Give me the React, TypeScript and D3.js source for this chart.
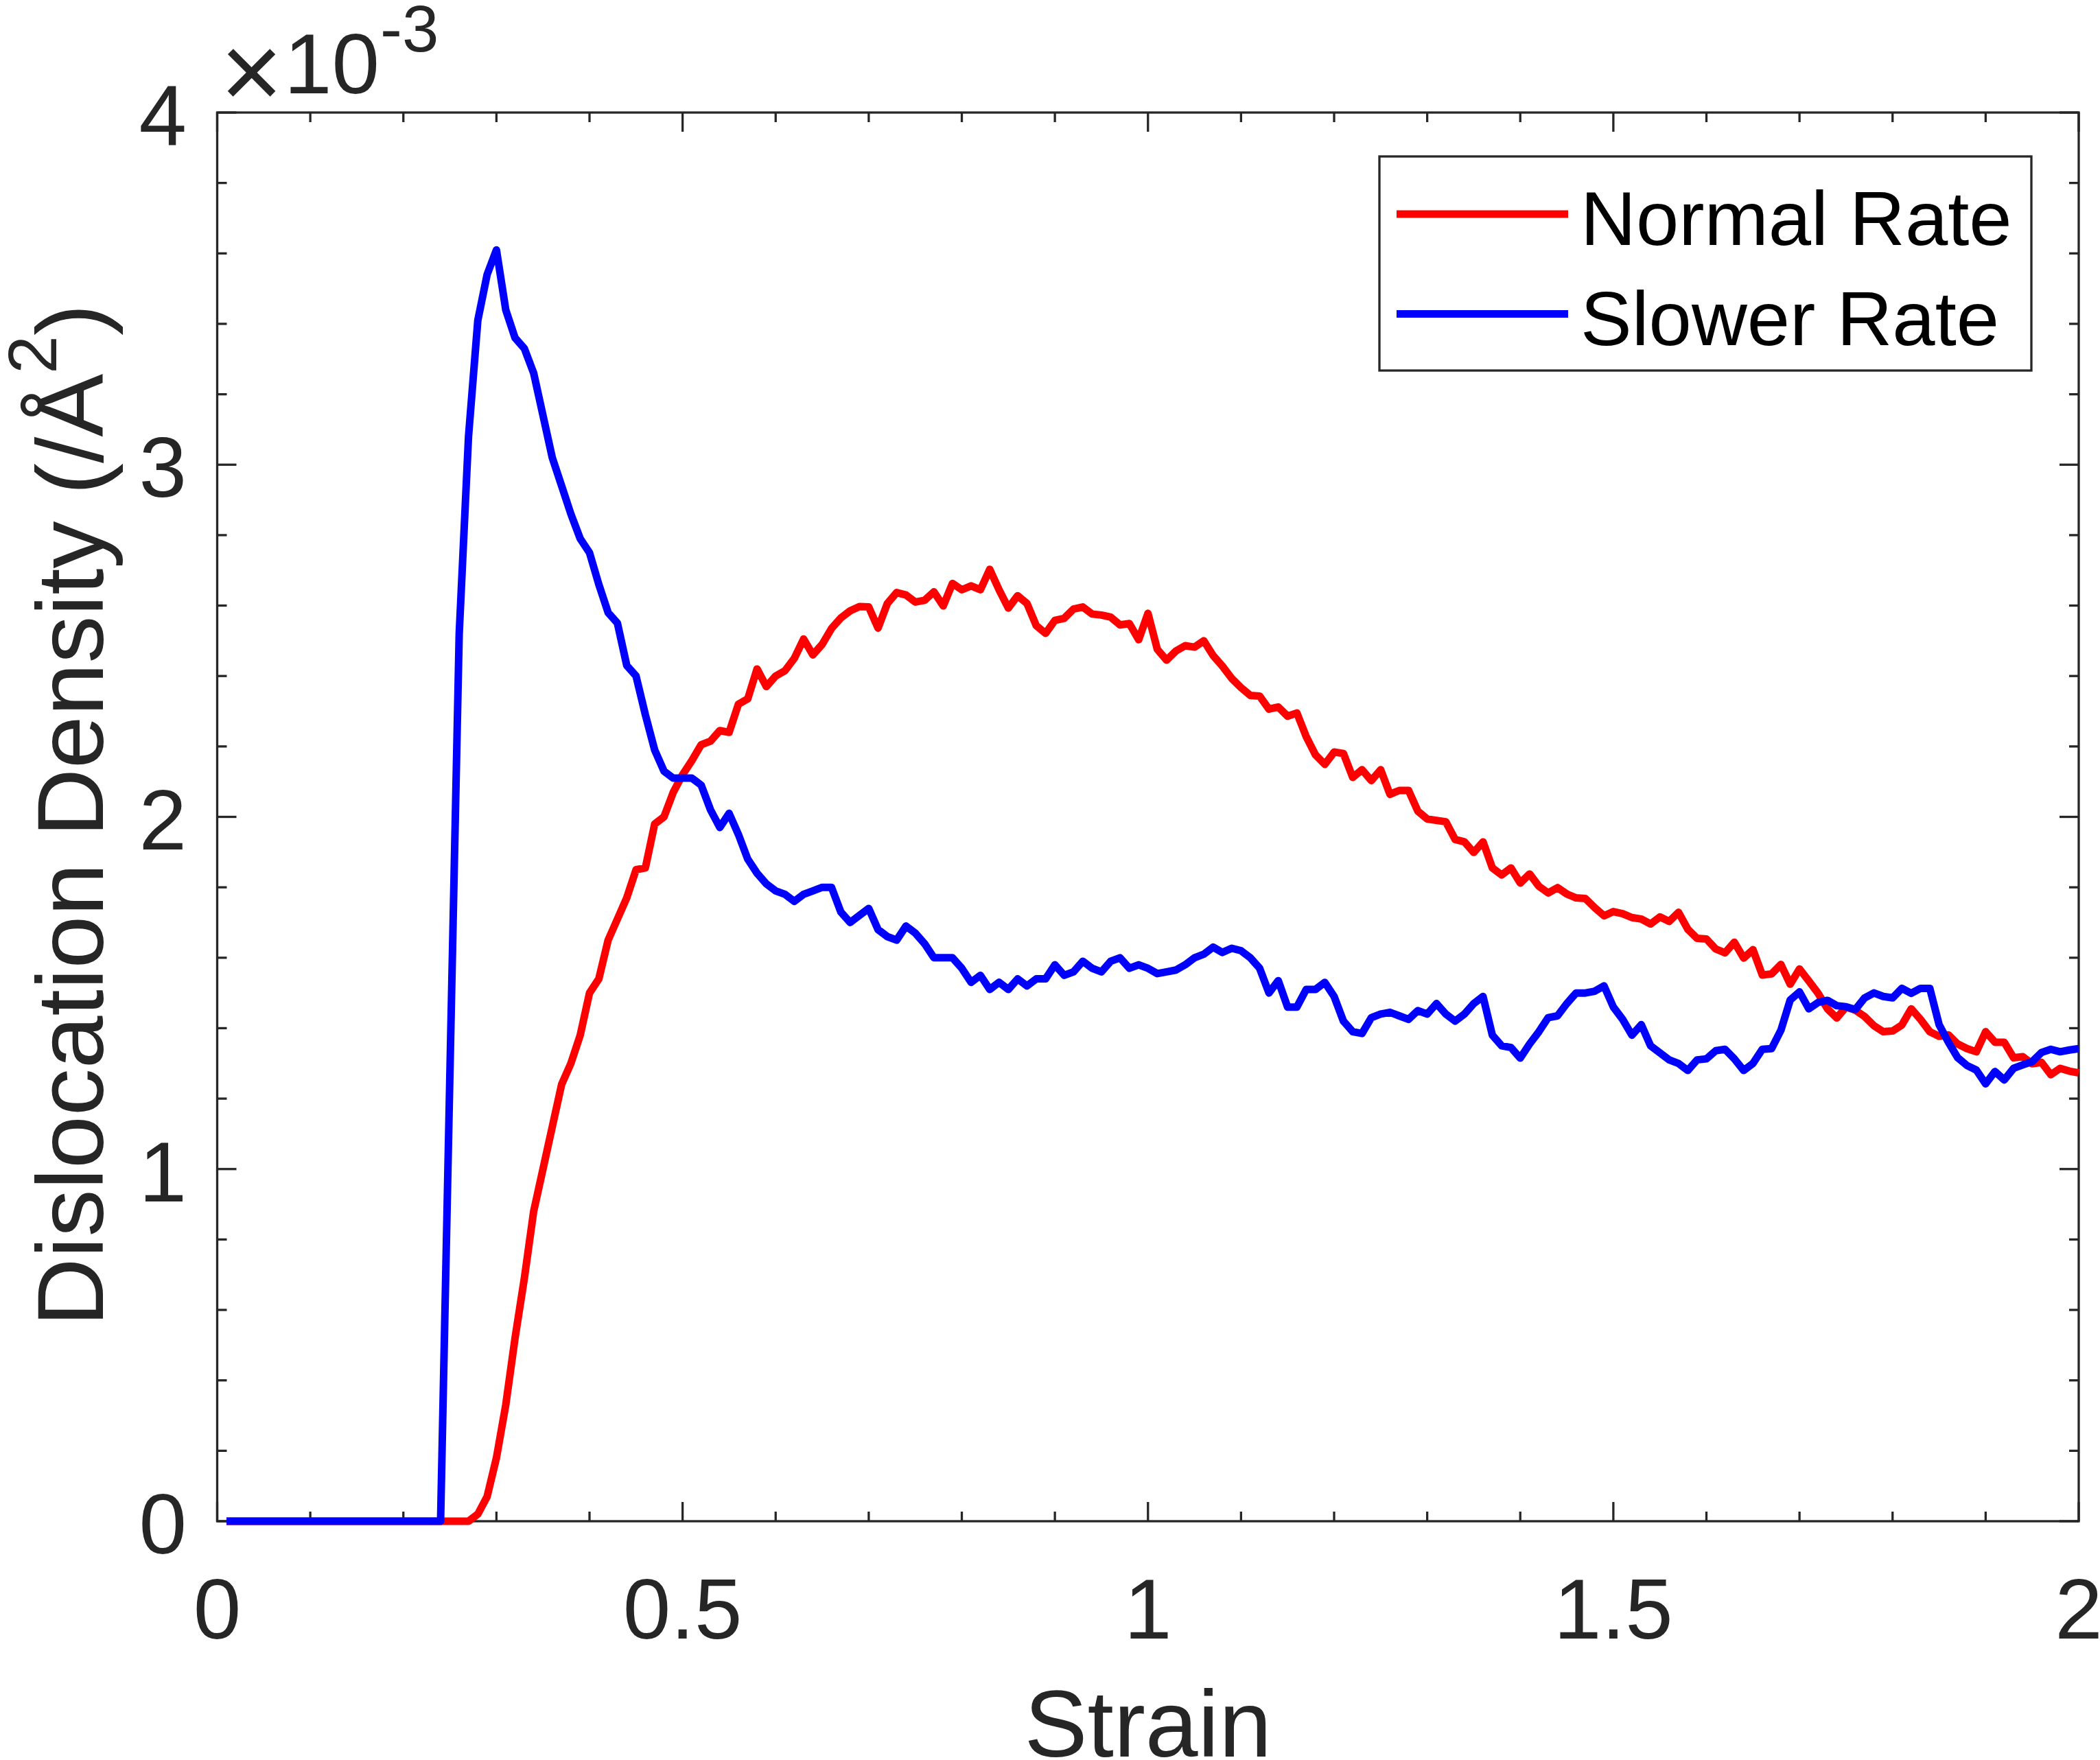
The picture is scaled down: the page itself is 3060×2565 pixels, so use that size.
import React, { useRef, useEffect } from 'react';
import * as d3 from 'd3';

// dislocation density (x1e-3 /Å^2), sampled every 0.01 strain from 0.01 to 2.00
const normalRate = [
  0, 0, 0, 0, 0, 0, 0, 0, 0, 0,
  0, 0, 0, 0, 0, 0, 0, 0, 0, 0,
  0, 0, 0, 0, 0, 0, 0, 0.02, 0.07, 0.18,
  0.33, 0.52, 0.69, 0.88, 1.0, 1.12, 1.24, 1.3, 1.38, 1.5,
  1.54, 1.65, 1.71, 1.77, 1.85, 1.855, 1.98, 2.0, 2.07, 2.12,
  2.16, 2.205, 2.215, 2.245, 2.24, 2.32, 2.335, 2.42, 2.37, 2.4,
  2.415, 2.45, 2.505, 2.46, 2.49, 2.535, 2.565, 2.585, 2.597, 2.596,
  2.536, 2.606, 2.637, 2.63, 2.61, 2.615, 2.639, 2.599, 2.663, 2.645,
  2.656, 2.645, 2.703, 2.645, 2.593, 2.628, 2.606, 2.543, 2.521, 2.558,
  2.564, 2.59, 2.596, 2.576, 2.573, 2.567, 2.545, 2.549, 2.503, 2.578,
  2.476, 2.445, 2.471, 2.486, 2.482, 2.5, 2.458, 2.428, 2.393, 2.367,
  2.345, 2.343, 2.306, 2.312, 2.286, 2.295, 2.228, 2.176, 2.149, 2.184,
  2.18, 2.112, 2.134, 2.103, 2.134, 2.064, 2.075, 2.075, 2.016, 1.994,
  1.99, 1.986, 1.936, 1.929, 1.899, 1.929, 1.855, 1.835, 1.855, 1.812,
  1.838, 1.803, 1.784, 1.799, 1.781, 1.77, 1.768, 1.742, 1.719, 1.731,
  1.725, 1.714, 1.71, 1.696, 1.716, 1.703, 1.729, 1.681, 1.655, 1.653,
  1.625, 1.614, 1.644, 1.599, 1.623, 1.551, 1.554, 1.581, 1.525, 1.568,
  1.534, 1.499, 1.455, 1.429, 1.46, 1.451, 1.433, 1.407, 1.39, 1.392,
  1.409, 1.455, 1.425, 1.39, 1.377, 1.381, 1.355, 1.342, 1.333, 1.39,
  1.36, 1.36, 1.316, 1.319, 1.299, 1.303, 1.268, 1.286, 1.278, 1.273,
];

const slowerRate = [
  0, 0, 0, 0, 0, 0, 0, 0, 0, 0,
  0, 0, 0, 0, 0, 0, 0, 0, 0, 0,
  0, 0, 0, 0, 1.27, 2.52, 3.08, 3.41, 3.54, 3.61,
  3.44, 3.36, 3.33, 3.26, 3.14, 3.02, 2.94, 2.86, 2.79, 2.75,
  2.66, 2.58, 2.55, 2.43, 2.4, 2.29, 2.19, 2.13, 2.11, 2.11,
  2.11, 2.09, 2.02, 1.97, 2.01, 1.95, 1.88, 1.84, 1.81, 1.79,
  1.78, 1.76, 1.78, 1.79, 1.8, 1.8, 1.73, 1.7, 1.72, 1.74,
  1.68, 1.66, 1.65, 1.69, 1.67, 1.64, 1.6, 1.6, 1.6, 1.57,
  1.53, 1.55, 1.51, 1.53, 1.51, 1.54, 1.52, 1.54, 1.54, 1.58,
  1.55, 1.56, 1.59, 1.57, 1.56, 1.59, 1.6, 1.57, 1.58, 1.57,
  1.555, 1.56, 1.565, 1.58, 1.6, 1.61, 1.63, 1.615, 1.627, 1.62,
  1.6, 1.57, 1.5, 1.535, 1.46, 1.46, 1.51, 1.51, 1.53, 1.49,
  1.42, 1.39, 1.385, 1.43, 1.44, 1.445, 1.435, 1.425, 1.45, 1.44,
  1.47, 1.44, 1.42, 1.44, 1.47, 1.49, 1.38, 1.35, 1.345, 1.315,
  1.355, 1.39, 1.43, 1.435, 1.47, 1.5, 1.5, 1.505, 1.52, 1.46,
  1.425, 1.38, 1.41, 1.35, 1.33, 1.31, 1.3, 1.28, 1.31, 1.313,
  1.336, 1.34, 1.313, 1.28, 1.3, 1.34, 1.342, 1.394, 1.48, 1.503,
  1.455, 1.473, 1.479, 1.464, 1.461, 1.453, 1.486, 1.5, 1.49, 1.486,
  1.513, 1.499, 1.513, 1.513, 1.41, 1.36, 1.316, 1.294, 1.281, 1.242,
  1.277, 1.253, 1.286, 1.296, 1.305, 1.331, 1.34, 1.333, 1.338, 1.342,
];

const strainStep = 0.01;
const xTicks = [0, 0.5, 1, 1.5, 2];
const xTickLabels = ['0', '0.5', '1', '1.5', '2'];
const yTicks = [0, 1, 2, 3, 4];
const yTickLabels = ['0', '1', '2', '3', '4'];

const series = [
  { name: 'Normal Rate', color: '#ff0000', values: normalRate },
  { name: 'Slower Rate', color: '#0000ff', values: slowerRate },
];

const W = 3060;
const H = 2565;
const axisColor = '#262626';
const font = '"Liberation Sans", Arial, Helvetica, sans-serif';

const App: React.FC = () => {
  const svgRef = useRef<SVGSVGElement>(null);

  useEffect(() => {
    const svg = d3.select(svgRef.current);
    svg.selectAll('*').remove();

    const left = 316.5, right = 3029, top = 164, bottom = 2217;

    const xScale = d3.scaleLinear().domain([0, 2]).range([left, right]);
    const yScale = d3.scaleLinear().domain([0, 4]).range([bottom, top]);

    svg.append('rect').attr('width', W).attr('height', H).attr('fill', 'white');

    // axes box
    svg.append('rect')
      .attr('x', left).attr('y', top)
      .attr('width', right - left).attr('height', bottom - top)
      .attr('fill', 'none').attr('stroke', axisColor).attr('stroke-width', 3.3);

    const ticks = svg.append('g').attr('stroke', axisColor).attr('stroke-width', 3.3);
    const xMinor = d3.range(0, 21).map((i) => i / 10);
    xMinor.forEach((v) => {
      const major = xTicks.some((t) => Math.abs(t - v) < 1e-9);
      const len = major ? 28 : 14;
      const x = xScale(v);
      ticks.append('line').attr('x1', x).attr('x2', x).attr('y1', bottom).attr('y2', bottom - len);
      ticks.append('line').attr('x1', x).attr('x2', x).attr('y1', top).attr('y2', top + len);
    });
    const yMinor = d3.range(0, 21).map((i) => i / 5);
    yMinor.forEach((v) => {
      const major = yTicks.some((t) => Math.abs(t - v) < 1e-9);
      const len = major ? 28 : 14;
      const y = yScale(v);
      ticks.append('line').attr('x1', left).attr('x2', left + len).attr('y1', y).attr('y2', y);
      ticks.append('line').attr('x1', right).attr('x2', right - len).attr('y1', y).attr('y2', y);
    });

    // tick labels
    svg.append('g')
      .selectAll('text')
      .data(xTicks)
      .join('text')
      .attr('x', (d) => xScale(d))
      .attr('y', 2388)
      .attr('text-anchor', 'middle')
      .attr('font-family', font)
      .attr('font-size', 125)
      .attr('fill', axisColor)
      .text((d, i) => xTickLabels[i]);

    svg.append('g')
      .selectAll('text')
      .data(yTicks)
      .join('text')
      .attr('x', 272)
      .attr('y', (d) => yScale(d) + 47)
      .attr('text-anchor', 'end')
      .attr('font-family', font)
      .attr('font-size', 125)
      .attr('fill', axisColor)
      .text((d, i) => yTickLabels[i]);

    // exponent
    const expo = svg.append('g').attr('font-family', font).attr('fill', axisColor);
    expo.append('text').attr('x', 321).attr('y', 158).attr('font-size', 156).attr('font-weight', 300).text('×');
    expo.append('text').attr('x', 414).attr('y', 136).attr('font-size', 125).text('10');
    expo.append('text').attr('x', 554).attr('y', 75).attr('font-size', 96).text('-3');

    // axis labels
    svg.append('text')
      .attr('x', (left + right) / 2)
      .attr('y', 2560)
      .attr('text-anchor', 'middle')
      .attr('font-family', font)
      .attr('font-size', 138)
      .attr('fill', axisColor)
      .text('Strain');

    const yl = svg.append('text')
      .attr('transform', 'translate(150,1188) rotate(-90)')
      .attr('text-anchor', 'middle')
      .attr('font-family', font)
      .attr('font-size', 138)
      .attr('fill', axisColor);
    yl.append('tspan').text('Dislocation Density (/Å');
    yl.append('tspan').attr('font-size', 100).attr('dy', -68).text('2');
    yl.append('tspan').attr('dy', 68).text(')');

    // lines
    const line = d3
      .line<number>()
      .x((d, i) => xScale((i + 1) * strainStep))
      .y((d) => yScale(d));

    series.forEach((s) => {
      svg.append('path')
        .datum(s.values)
        .attr('fill', 'none')
        .attr('stroke', s.color)
        .attr('stroke-width', 11)
        .attr('stroke-linejoin', 'round')
        .attr('d', line);
    });

    // legend
    const legend = svg.append('g');
    legend.append('rect')
      .attr('x', 2010).attr('y', 228).attr('width', 950).attr('height', 312)
      .attr('fill', 'white').attr('stroke', axisColor).attr('stroke-width', 3.3);
    series.forEach((s, i) => {
      const cy = 312 + i * 145.5;
      legend.append('line')
        .attr('x1', 2035).attr('x2', 2285).attr('y1', cy).attr('y2', cy)
        .attr('stroke', s.color).attr('stroke-width', 11);
      legend.append('text')
        .attr('x', 2303).attr('y', cy + 45)
        .attr('font-family', font).attr('font-size', 112).attr('fill', '#000')
        .text(s.name);
    });
  }, []);

  return (
    <div style={{ position: 'absolute', left: 0, top: 0 }}>
      <svg ref={svgRef} width={W} height={H} style={{ display: 'block' }} />
    </div>
  );
};

export default App;
